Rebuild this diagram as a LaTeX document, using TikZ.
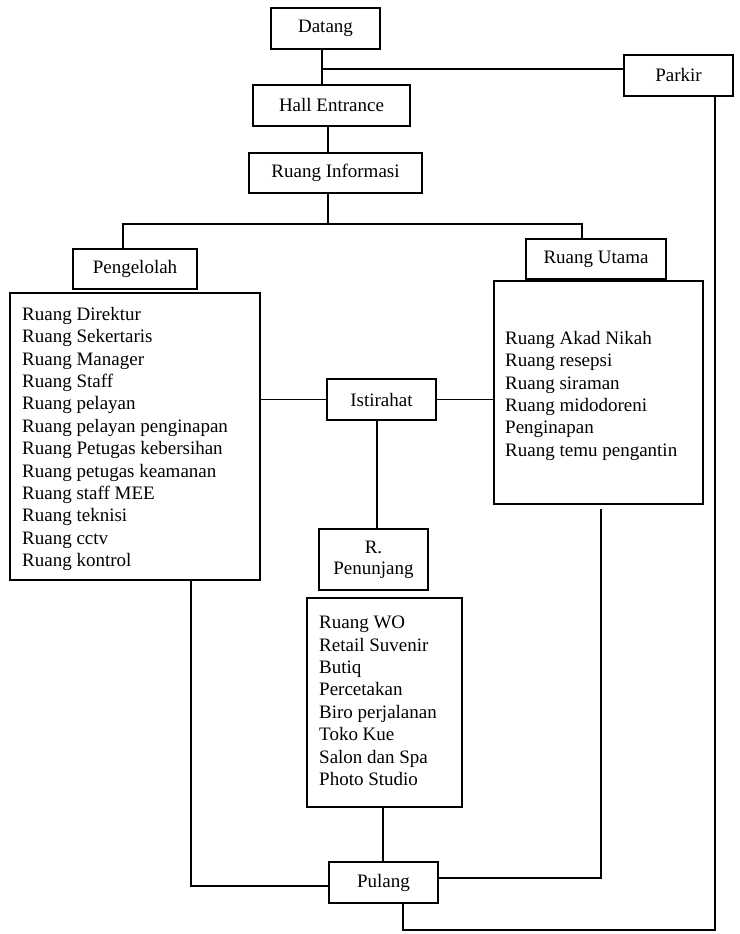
\documentclass[tikz,border=0pt]{standalone}
\usepackage{fontspec}
\setmainfont{Liberation Serif}
\usetikzlibrary{calc}
\begin{document}
\begin{tikzpicture}[x=1pt,y=-1pt,
  box/.style={draw,line width=1.7pt,inner sep=0pt,align=center,font=\fontsize{19}{21}\selectfont},
  conn/.style={line width=1.7pt},
  listtext/.style={anchor=north west,align=left,inner sep=0pt,font=\fontsize{19}{22.4}\selectfont}]
\useasboundingbox[fill=white] (0,0) rectangle (739,934);

% title boxes
\node[box,minimum width=109pt,minimum height=41pt] (datang) at (325.5,28.5) {Datang};
\node[box,minimum width=109pt,minimum height=41pt] (parkir) at (678.5,75.5) {Parkir};
\node[box,minimum width=157pt,minimum height=41pt] (hall) at (331.5,105.5) {Hall Entrance};
\node[box,minimum width=173pt,minimum height=40pt] (info) at (335.5,173) {Ruang Informasi};
\node[box,minimum width=124pt,minimum height=40pt] (peng) at (135,269) {Pengelolah};
\node[box,minimum width=140pt,minimum height=40pt] (utama) at (596,259) {Ruang Utama};
\node[box,minimum width=109pt,minimum height=41pt] (istirahat) at (381.5,399.5) {Istirahat};
\node[box,minimum width=109pt,minimum height=61pt] (penunjang) at (373.5,559.5) {R.\\Penunjang};
\node[box,minimum width=109pt,minimum height=41pt] (pulang) at (383.5,882.5) {Pulang};

% list boxes
\node[box,minimum width=250pt,minimum height=287pt] (penglist) at (135,436.5) {};
\node[box,minimum width=209pt,minimum height=223pt] (utamalist) at (598.5,392.5) {};
\node[box,minimum width=155pt,minimum height=209pt] (penunlist) at (384.5,702.5) {};

\node[listtext] (pengtext) at (22,307) {Ruang Direktur\\Ruang Sekertaris\\Ruang Manager\\Ruang Staff\\Ruang pelayan\\Ruang pelayan penginapan\\Ruang Petugas kebersihan\\Ruang petugas keamanan\\Ruang staff MEE\\Ruang teknisi\\Ruang cctv\\Ruang kontrol};
\node[listtext] (utamatext) at (505,331) {Ruang Akad Nikah\\Ruang resepsi\\Ruang siraman\\Ruang midodoreni\\Penginapan\\Ruang temu pengantin};
\node[listtext] (penuntext) at (319,616) {Ruang WO\\Retail Suvenir\\Butiq\\Percetakan\\Biro perjalanan\\Toko Kue\\Salon dan Spa\\Photo Studio};

% connectors
\coordinate (a1) at (322,69);
\draw[conn] (datang.south -| a1) -- (hall.north -| a1);
\draw[conn] (a1) -- (a1 -| parkir.west);
\coordinate (a2) at (328,224);
\draw[conn] (hall.south -| a2) -- (info.north -| a2);
\draw[conn] (info.south -| a2) -- (a2);
\coordinate (bl) at (123,224);
\coordinate (br) at (582,224);
\draw[conn] (peng.north -| bl) -- (bl) -- (br) -- (utama.north -| br);
\draw[conn] (penglist.east |- istirahat.west) -- (istirahat.west);
\draw[conn] (istirahat.east) -- (istirahat.east -| utamalist.west);
\coordinate (c1) at (377,500);
\draw[conn] (istirahat.south -| c1) -- (penunjang.north -| c1);
\coordinate (c2) at (383,830);
\draw[conn] (penunlist.south -| c2) -- (pulang.north -| c2);
\coordinate (d1) at (191,886);
\draw[conn] (penglist.south -| d1) -- (d1) -- (d1 -| pulang.west);
\coordinate (d2) at (601,878);
\draw[conn] ($(utamalist.south -| d2)+(0,4)$) -- (d2) -- (d2 -| pulang.east);
\coordinate (e1) at (715,930);
\coordinate (e2) at (403,930);
\draw[conn] (parkir.south -| e1) -- (e1) -- (e2) -- (pulang.south -| e2);
\end{tikzpicture}
\end{document}
